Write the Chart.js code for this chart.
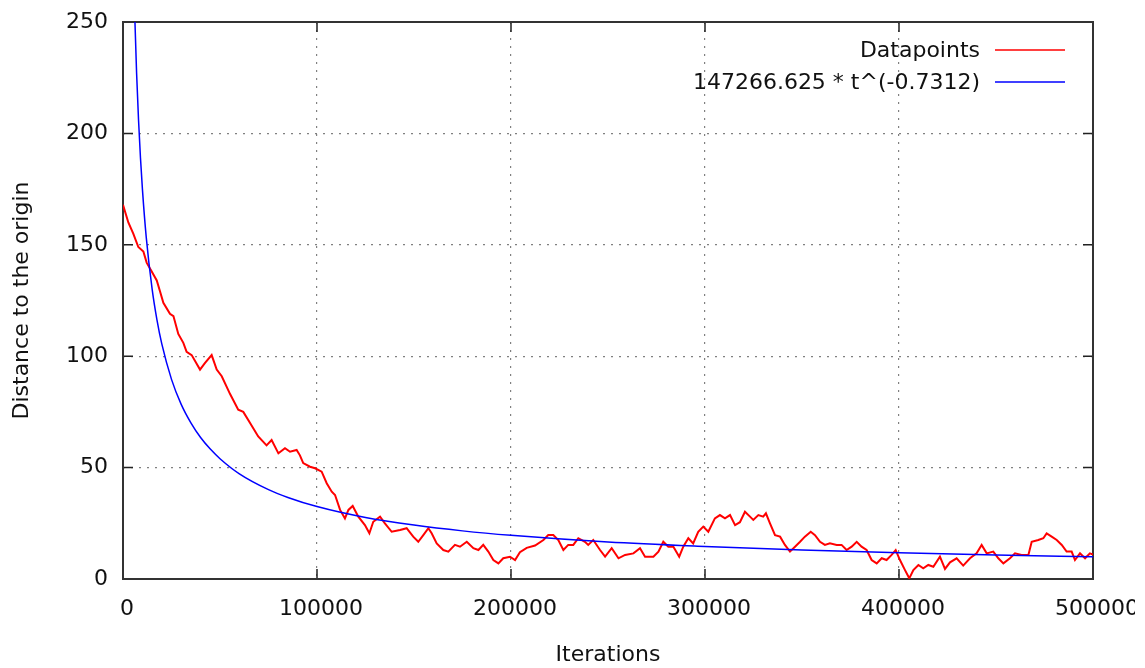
<!DOCTYPE html>
<html lang="pt-BR">
<head>
<meta charset="UTF-8">
<title>Distance to the origin</title>
<script src="https://cdn.jsdelivr.net/npm/chart.js@4.4.1/dist/chart.umd.min.js"></script>
<style>
    html, body { margin: 0; padding: 0; background: #fff; overflow: hidden; }
    .grafico-container { width: 1135px; height: 668px; }
</style>
</head>
<body>
<div class="grafico-container">
    <canvas id="grafico-distancia" width="1135" height="668"></canvas>
</div>
<script>
// Dados
const iteracoes = [
    0, 2750, 5300, 7900, 10500, 12200, 14800, 17400, 19100, 20800,
    24200, 26000, 28500, 31100, 32800, 35400, 39700, 42300, 45700, 48300,
    50900, 55200, 59400, 62000, 65500, 69700, 74000, 76600, 80100, 83500,
    86100, 89500, 91200, 92900, 96400, 99000, 102400, 105000, 107600, 109300,
    111900, 114400, 116200, 118400, 121300, 124700, 127000, 129000, 132500, 135000,
    138500, 142800, 146200, 149600, 152200, 154800, 157400, 159100, 161700, 165100,
    167700, 171100, 173700, 177200, 180600, 183200, 185700, 188300, 190900, 193500,
    196000, 199500, 202100, 204600, 208100, 212400, 216700, 219200, 221800, 224400,
    227000, 229500, 232100, 234700, 238100, 239800, 242400, 245900, 248500, 251900,
    255400, 258800, 263100, 266500, 269100, 273400, 276000, 278500, 281100, 283700,
    286700, 288800, 291400, 293900, 296500, 299100, 301700, 305100, 307700, 310300,
    312900, 315500, 318000, 320600, 323200, 324900, 327500, 330000, 331400, 333500,
    336100, 338700, 341200, 343800, 346400, 349000, 351500, 354500, 356700, 359300,
    361800, 364400, 367900, 370400, 373000, 375600, 378200, 380700, 383300, 385900,
    388500, 391100, 393600, 396200, 398300, 400500, 403100, 405300, 407400, 410000,
    412500, 415100, 417700, 421100, 423700, 426300, 429700, 433100, 436600, 440000,
    442600, 445200, 448600, 451200, 453800, 457200, 459800, 463200, 466700, 468400,
    471800, 474400, 476100, 478700, 481300, 483900, 486400, 489000, 490700, 493300,
    495900, 498400, 500000
];
const distancias = [
    168, 160, 155, 149, 147, 142, 138, 134, 129, 124,
    119, 118, 110, 106, 102, 100.5, 94, 97, 100.5, 94,
    91, 83, 76, 75, 70, 64, 60, 62.4, 56.4, 58.7,
    57.1, 57.9, 55.5, 52, 50.4, 49.7, 48.2, 43, 39.2, 37.7,
    31, 27.2, 31, 32.8, 28, 24.2, 20.5, 25.7, 28, 25,
    21.2, 22, 22.8, 19, 16.7, 19.7, 22.8, 20.5, 16, 13,
    12.3, 15.3, 14.5, 16.7, 13.8, 13, 15.3, 12.3, 8.5, 7,
    9.3, 10, 8.5, 12, 14, 15, 17.5, 19.7, 19.7, 17.5,
    13, 15.3, 15.3, 18.3, 16.7, 15.3, 17.5, 13, 10, 13.8,
    9.3, 10.8, 11.5, 13.8, 10, 10, 12.3, 16.7, 14.5, 14.5,
    10, 14.5, 18.3, 16, 21.2, 23.5, 21.2, 27.2, 28.7, 27.2,
    28.7, 24.2, 25.5, 30.2, 28, 26.5, 28.7, 28, 29.5, 25,
    19.7, 19, 15.3, 12.3, 14.5, 16.7, 19, 21.2, 19.7, 16.7,
    15.3, 16, 15.3, 15.3, 13, 14.5, 16.7, 14.5, 13, 8.5,
    7, 9.3, 8.5, 10.8, 13, 8.5, 4, 0.3, 4, 6.3,
    4.8, 6.3, 5.5, 10, 4.5, 7.5, 9.3, 6, 9.3, 11.5,
    15.3, 11.5, 12.3, 9.3, 7, 9.3, 11.5, 10.8, 10.8, 16.7,
    17.5, 18.3, 20.5, 19, 17.5, 15.3, 12.3, 12.3, 8.5, 11.5,
    9.3, 11.5, 11
];

const iteracoesAjuste = [
    5000, 6000, 7000, 8000, 9000, 10000, 12000, 15000, 17500, 20000,
    25000, 30000, 35000, 40000, 45000, 50000, 60000, 75000, 85000, 100000,
    125000, 150000, 175000, 200000, 250000, 300000, 350000, 400000, 450000, 500000
];
const distanciasAjuste = [
    290.5, 254.4, 227.2, 206.1, 189.1, 175.1, 153.2, 130.2, 116.3, 105.5,
    89.6, 78.4, 70.1, 63.5, 58.3, 54.0, 47.2, 40.1, 36.6, 32.5,
    27.6, 24.2, 21.6, 19.6, 16.6, 14.6, 13.0, 11.8, 10.8, 10.0
];

// Marcas dos eixos e legenda
const ticksX = [0, 100000, 200000, 300000, 400000, 500000];
const ticksY = [0, 50, 100, 150, 200, 250];
const rotulos = ['Datapoints', '147266.625 * t^(-0.7312)'];
const titulos = { x: 'Iterations', y: 'Distance to the origin' };

document.addEventListener('DOMContentLoaded', function() {
    Chart.defaults.font.family = "'DejaVu Sans', sans-serif";
    Chart.defaults.font.size = 22;
    Chart.defaults.color = '#111';
    criarGraficoDistancia();
});

// Moldura no estilo gnuplot: caixa fechada com marcas para dentro
const pluginMoldura = {
    id: 'moldura',
    beforeDatasetsDraw(chart) {
        const { ctx, chartArea: a, scales } = chart;
        const tam = 10;
        ctx.save();
        ctx.strokeStyle = '#222';
        ctx.lineWidth = 1.5;
        ctx.beginPath();
        scales.x.ticks.forEach(t => {
            const px = scales.x.getPixelForValue(t.value);
            ctx.moveTo(px, a.bottom); ctx.lineTo(px, a.bottom - tam);
            ctx.moveTo(px, a.top); ctx.lineTo(px, a.top + tam);
        });
        scales.y.ticks.forEach(t => {
            const py = scales.y.getPixelForValue(t.value);
            ctx.moveTo(a.left, py); ctx.lineTo(a.left + tam, py);
            ctx.moveTo(a.right, py); ctx.lineTo(a.right - tam, py);
        });
        ctx.stroke();
        ctx.lineWidth = 2;
        ctx.strokeStyle = '#333';
        ctx.strokeRect(a.left, a.top, a.right - a.left, a.bottom - a.top);
        ctx.restore();
    }
};

// Legenda no canto superior direito (texto à esquerda da amostra)
const pluginLegenda = {
    id: 'legendaGnuplot',
    afterDatasetsDraw(chart) {
        const { ctx, chartArea: a } = chart;
        ctx.save();
        ctx.font = "22px 'DejaVu Sans', sans-serif";
        ctx.textAlign = 'right';
        ctx.textBaseline = 'middle';
        chart.data.datasets.forEach((ds, i) => {
            const y = a.top + 28 + i * 32;
            ctx.fillStyle = '#111';
            ctx.fillText(ds.label, a.right - 113, y + 1);
            ctx.strokeStyle = ds.borderColor;
            ctx.lineWidth = 1.5;
            ctx.beginPath();
            ctx.moveTo(a.right - 98, y);
            ctx.lineTo(a.right - 28, y);
            ctx.stroke();
        });
        ctx.restore();
    }
};

function corGrade(ctx, maximo) {
    const v = ctx.tick ? ctx.tick.value : null;
    if (v === 0 || v === maximo) return 'rgba(0,0,0,0)';
    return '#808080';
}

function criarGraficoDistancia() {
    const ctx = document.getElementById('grafico-distancia');
    if (!ctx) return;

    const pontos = iteracoes.map((x, i) => ({ x: x, y: distancias[i] }));
    const pontosAjuste = iteracoesAjuste.map((x, i) => ({ x: x, y: distanciasAjuste[i] }));

    new Chart(ctx, {
        type: 'line',
        data: {
            datasets: [
                {
                    label: rotulos[0],
                    data: pontos,
                    borderColor: '#ff0000',
                    borderWidth: 2,
                    pointRadius: 0,
                    tension: 0,
                    fill: false,
                    order: 1
                },
                {
                    label: rotulos[1],
                    data: pontosAjuste,
                    borderColor: '#0000ff',
                    borderWidth: 1.5,
                    pointRadius: 0,
                    cubicInterpolationMode: 'monotone',
                    fill: false,
                    order: 0
                }
            ]
        },
        options: {
            responsive: false,
            animation: false,
            layout: {
                padding: { left: 0, top: 22, right: 42, bottom: 0 }
            },
            plugins: {
                legend: { display: false },
                tooltip: { enabled: false }
            },
            scales: {
                x: {
                    type: 'linear',
                    min: 0,
                    max: 500000,
                    afterBuildTicks: function(escala) {
                        escala.ticks = ticksX.map(v => ({ value: v }));
                    },
                    afterFit: function(escala) {
                        escala.height = 89;
                        escala.paddingLeft = 0;
                        escala.paddingRight = 0;
                    },
                    ticks: {
                        maxRotation: 0,
                        autoSkip: false,
                        padding: 17,
                        labelOffset: 4,
                        callback: function(valor) { return String(valor); }
                    },
                    grid: {
                        drawTicks: false,
                        lineWidth: 1.2,
                        color: c => corGrade(c, 500000)
                    },
                    border: { display: false, dash: [2, 6] },
                    title: {
                        display: true,
                        text: titulos.x,
                        padding: { top: 0, bottom: 0 }
                    }
                },
                y: {
                    type: 'linear',
                    min: 0,
                    max: 250,
                    afterBuildTicks: function(escala) {
                        escala.ticks = ticksY.map(v => ({ value: v }));
                    },
                    afterFit: function(escala) {
                        escala.width = 123;
                        escala.paddingTop = 0;
                        escala.paddingBottom = 0;
                    },
                    ticks: {
                        padding: 15,
                        callback: function(valor) { return String(valor); }
                    },
                    grid: {
                        drawTicks: false,
                        lineWidth: 1.2,
                        color: c => corGrade(c, 250)
                    },
                    border: { display: false, dash: [2, 6] },
                    title: {
                        display: true,
                        text: titulos.y,
                        padding: { top: 9, bottom: 0 }
                    }
                }
            }
        },
        plugins: [pluginMoldura, pluginLegenda]
    });
}
</script>
</body>
</html>
